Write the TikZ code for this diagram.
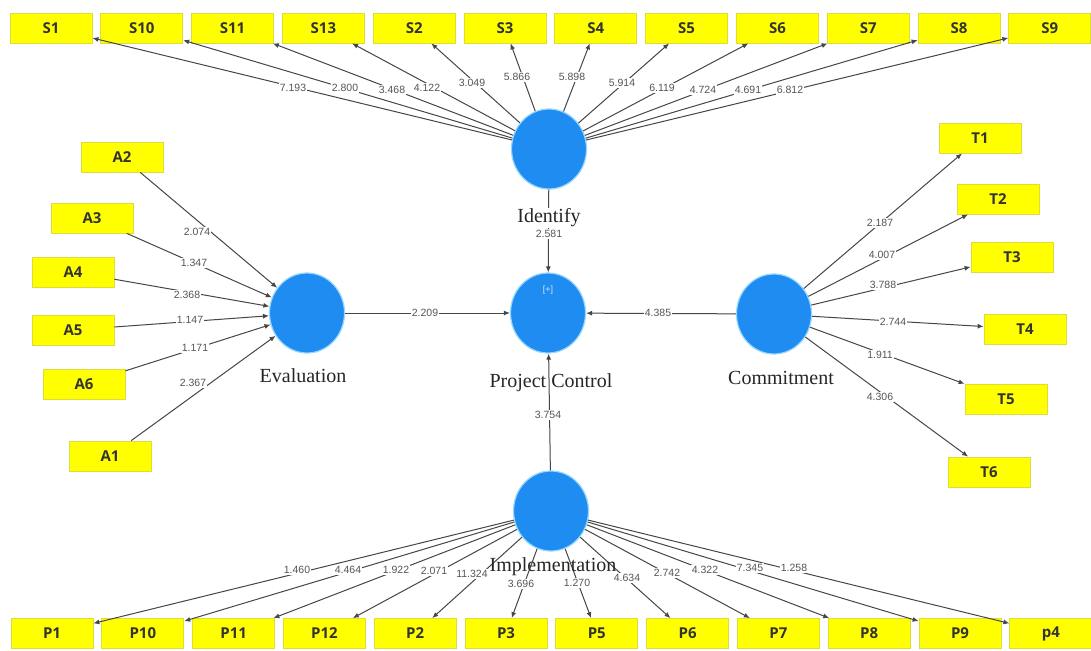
\documentclass[tikz,border=0pt]{standalone}
\usepackage{fontspec}
\setmainfont{Liberation Serif}
\newfontfamily\boxfont{Open Sans}
\newfontfamily\numfont{Liberation Sans}
\usetikzlibrary{arrows.meta,shapes.geometric,calc}
\definecolor{boxyellow}{RGB}{255,255,0}
\definecolor{boxedge}{RGB}{220,220,60}
\definecolor{lvblue}{RGB}{30,140,240}
\definecolor{halo}{RGB}{150,215,255}
\definecolor{linegray}{RGB}{70,70,70}
\definecolor{numgray}{RGB}{85,85,85}
\begin{document}
\begin{tikzpicture}[x=1pt,y=-1pt,
  ind/.style={rectangle, fill=boxyellow, draw=boxedge, line width=0.8pt,
    minimum width=82pt, minimum height=30pt, inner sep=0pt,
    font=\boxfont\bfseries\fontsize{15}{15}\selectfont, text=black!80},
  lv/.style={ellipse, fill=lvblue, draw=halo, line width=1.2pt,
    minimum width=75pt, minimum height=80pt, inner sep=0pt},
  lvname/.style={font=\fontsize{20}{20}\selectfont, text=black!85, inner sep=0.5pt},
  conn/.style={draw=linegray, line width=1pt, -{Latex[length=6pt,width=5pt]}},
  coef/.style={fill=white, inner sep=1pt,
    font=\numfont\fontsize{10.5}{10.5}\selectfont, text=numgray}]
\fill[white] (0,0) rectangle (1091,650);
\useasboundingbox (0,0) rectangle (1091,650);

% latent variables
\node[lv] (Iden) at (549,149) {};
\node[lv] (PC)   at (548,313) {};
\node[lv] (Eval) at (307,313) {};
\node[lv] (Comm) at (774,314) {};
\node[lv] (Impl) at (551,511) {};

% indicators
\foreach \n [count=\i from 0] in {S1,S10,S11,S13,S2,S3,S4,S5,S6,S7,S8,S9}
  \node[ind] (\n) at ({51+90.8*\i},28) {\n};
\foreach \n [count=\i from 0] in {P1,P10,P11,P12,P2,P3,P5,P6,P7,P8,P9,p4}
  \node[ind] (\n) at ({52+90.8*\i},633.5) {\n};
\foreach \n/\x/\y in {A2/122/157,A3/92/218,A4/73/272,A5/73/330,A6/84/384,A1/110/456}
  \node[ind] (\n) at (\x,\y) {\n};
\foreach \n/\x/\y in {T1/980/138,T2/998/199,T3/1012/257,T4/1025/329,T5/1006/399,T6/989/472}
  \node[ind] (\n) at (\x,\y) {\n};

% connectors
\foreach \n in {S1,S10,S11,S13,S2,S3,S4,S5,S6,S7,S8,S9}
  \draw[conn] (Iden) -- (\n);
\foreach \n in {P1,P10,P11,P12,P2,P3,P5,P6,P7,P8,P9,p4}
  \draw[conn] (Impl) -- (\n);
\foreach \n in {A2,A3,A4,A5,A6,A1}
  \draw[conn] (\n) -- (Eval);
\foreach \n in {T1,T2,T3,T4,T5,T6}
  \draw[conn] (Comm) -- (\n);
\draw[conn] (Eval) -- (PC);
\draw[conn] (Iden) -- (PC);
\draw[conn] (Comm) -- (PC);
\draw[conn] (Impl) -- (PC);

% coefficients
\foreach \n/\x/\y/\v in {S1/293/88/7.193,S10/345/88/2.800,S11/392/90/3.468,
    S13/427/88/4.122,S2/472/83/3.049,S3/517/77/5.866,S4/572/77/5.898,
    S5/622/83/5.914,S6/662/88/6.119,S7/703/90/4.724,S8/748/90/4.691,S9/790/90/6.812,
    A2/197/232/2.074,A3/194/263/1.347,A4/187/295/2.368,A5/190/320/1.147,
    A6/195/348/1.171,A1/193/383/2.367,
    T1/880/223/2.187,T2/882/255/4.007,T3/883/285/3.788,T4/893/322/2.744,
    T5/880/355/1.911,T6/880/397/4.306,
    P1/297/570/1.460,P10/348/570/4.464,P11/396/570/1.922,P12/434/571/2.071,
    P2/472/574/11.324,P3/521/584/3.696,P5/577/583/1.270,P6/627/578/4.634,
    P7/667/573/2.742,P8/705/570/4.322,P9/750/568/7.345,p4/794/568/1.258}
  \node[coef] (c\n) at (\x,\y) {\v};
\node[coef] (cEval) at (425,313) {2.209};
\node[coef] (cComm) at (658,313) {4.385};
\node[coef] (cIden) at (549,234) {2.581};
\node[coef] (cImpl) at (548,415) {3.754};

% names
\node[lvname, fill=white] (nIden) at (549,218) {Identify};
\node[lvname] (nEval) at (303,376) {Evaluation};
\node[lvname] (nPC) at (551,383) {Project Control};
\node[lvname] (nComm) at (781,378) {Commitment};
\node[lvname] (nImpl) at (553,567) {Implementation};
\node[font=\numfont\fontsize{9}{9}\selectfont, text=white!80!lvblue, inner sep=0pt] (plus) at (548,290) {[+]};
\end{tikzpicture}
\end{document}
